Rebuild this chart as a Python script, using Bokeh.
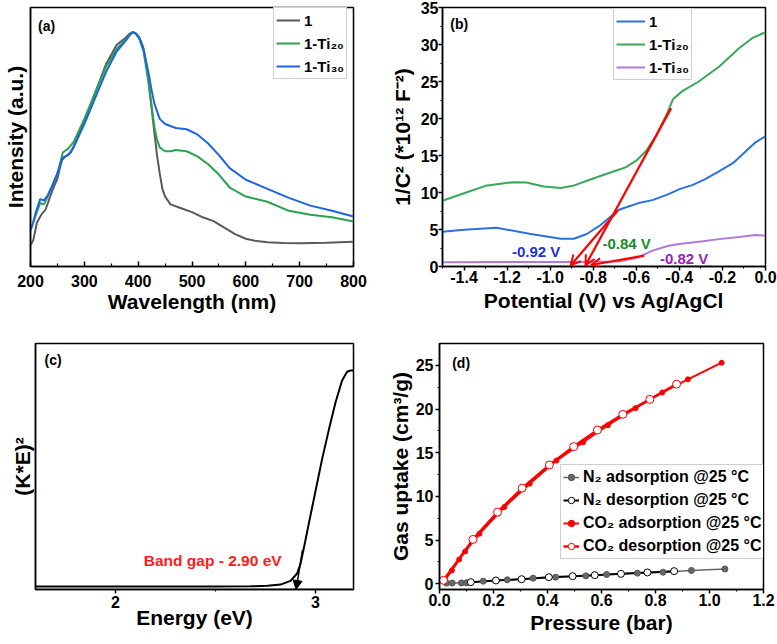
from bokeh.plotting import figure
from bokeh.layouts import row, column
from bokeh.models import (Range1d, FixedTicker, PrintfTickFormatter, Legend, LegendItem,
                          Label, Arrow, OpenHead, NormalHead)
from bokeh.embed import file_html
from bokeh.resources import INLINE

FONT = "Liberation Sans"

# ---------------- data: panel (a) ----------------
wl_1 = [200, 205, 212, 220, 228, 240, 250, 258, 265, 275, 290, 300, 320, 340, 360, 375, 383, 390, 397, 405, 410,
        415, 420, 425, 430, 435, 440, 445, 450, 460, 480, 500, 520, 540, 560, 580, 600, 620, 640, 670, 700, 750, 800]
int_1 = [0.083, 0.10, 0.17, 0.20, 0.22, 0.29, 0.34, 0.41, 0.425, 0.44, 0.51, 0.56, 0.67, 0.78, 0.855, 0.88, 0.897,
         0.905, 0.898, 0.87, 0.84, 0.78, 0.70, 0.61, 0.52, 0.43, 0.36, 0.30, 0.27, 0.24, 0.225, 0.21, 0.19, 0.175,
         0.15, 0.125, 0.107, 0.098, 0.094, 0.091, 0.09, 0.092, 0.096]
wl_ti20 = [200, 205, 210, 218, 225, 232, 240, 250, 255, 260, 270, 280, 300, 320, 340, 360, 378, 385, 390, 395, 402,
           410, 420, 425, 430, 435, 440, 450, 460, 470, 490, 510, 530, 550, 570, 600, 640, 680, 720, 760, 800]
int_ti20 = [0.14, 0.17, 0.20, 0.245, 0.24, 0.27, 0.31, 0.36, 0.40, 0.44, 0.455, 0.48, 0.57, 0.67, 0.77, 0.84,
            0.88, 0.898, 0.905, 0.9, 0.88, 0.83, 0.70, 0.62, 0.54, 0.49, 0.46, 0.445, 0.445, 0.45, 0.445, 0.425,
            0.395, 0.355, 0.305, 0.27, 0.25, 0.215, 0.20, 0.19, 0.174]
wl_ti30 = [200, 205, 210, 218, 225, 232, 240, 250, 255, 260, 270, 280, 300, 320, 340, 360, 378, 385, 390, 395, 402,
           410, 420, 425, 430, 440, 450, 470, 490, 510, 530, 550, 570, 600, 640, 680, 720, 760, 800]
int_ti30 = [0.14, 0.17, 0.21, 0.26, 0.255, 0.275, 0.31, 0.36, 0.39, 0.42, 0.43, 0.46, 0.55, 0.65, 0.75, 0.83,
            0.875, 0.895, 0.905, 0.9, 0.885, 0.84, 0.74, 0.68, 0.63, 0.57, 0.55, 0.535, 0.53, 0.51, 0.475, 0.43,
            0.38, 0.335, 0.30, 0.265, 0.235, 0.215, 0.193]

# ---------------- data: panel (b) ----------------
pot_1 = [-1.5, -1.4, -1.25, -1.09, -0.95, -0.89, -0.83, -0.77, -0.71, -0.68, -0.65, -0.59, -0.525, -0.45,
         -0.40, -0.34, -0.28, -0.22, -0.15, -0.09, -0.05, 0.0]
mott_1 = [4.71, 4.95, 5.25, 4.39, 3.75, 3.75, 4.39, 5.52, 6.95, 7.67, 7.98, 8.57, 8.97, 9.78, 10.45, 11.0,
          11.8, 12.8, 14.0, 15.6, 16.7, 17.6]
pot_ti20 = [-1.5, -1.39, -1.30, -1.17, -1.11, -1.03, -0.95, -0.895, -0.80, -0.71, -0.65, -0.60, -0.555, -0.51,
            -0.46, -0.43, -0.386, -0.31, -0.216, -0.123, -0.062, 0.0]
mott_ti20 = [8.88, 10.0, 10.9, 11.4, 11.35, 10.8, 10.6, 10.9, 11.9, 12.8, 13.4, 14.3, 15.6, 17.6, 20.5, 22.6,
             23.7, 25.0, 27.0, 29.5, 30.85, 31.66]
pot_ti30 = [-1.5, -1.2, -0.9, -0.68, -0.59, -0.525, -0.45, -0.40, -0.29, -0.216, -0.123, -0.046, 0.0]
mott_ti30 = [0.58, 0.6, 0.62, 0.67, 1.26, 2.15, 2.8, 3.05, 3.4, 3.7, 4.0, 4.26, 4.17]
fb_labels = ["-0.92 V", "-0.84 V", "-0.82 V"]

# ---------------- data: panel (c) ----------------
energy = [1.6, 2.2, 2.5, 2.675, 2.76, 2.825, 2.875, 2.908, 2.925, 2.942, 2.967, 3.0, 3.033, 3.067, 3.1,
          3.133, 3.158, 3.175, 3.19]
ke2 = [0.012, 0.012, 0.012, 0.013, 0.015, 0.02, 0.035, 0.065, 0.104, 0.17, 0.27, 0.40, 0.53, 0.65, 0.76,
       0.85, 0.885, 0.89, 0.89]

# ---------------- data: panel (d) ----------------
n2_ads_p = [0.026, 0.047, 0.081, 0.10, 0.162, 0.251, 0.347, 0.43, 0.542, 0.619, 0.733, 0.828, 0.933, 1.057]
n2_ads_v = [0.08, 0.09, 0.10, 0.12, 0.30, 0.46, 0.65, 0.76, 0.91, 1.07, 1.22, 1.33, 1.53, 1.70]
n2_des_p = [0.116, 0.209, 0.304, 0.405, 0.493, 0.575, 0.672, 0.770, 0.869]
n2_des_v = [0.19, 0.38, 0.53, 0.76, 0.875, 0.99, 1.14, 1.30, 1.45]
co2_ads_p = [0.021, 0.046, 0.073, 0.095, 0.148, 0.240, 0.334, 0.433, 0.532, 0.624, 0.726, 0.825, 0.920, 1.045]
co2_ads_v = [0.46, 1.53, 2.79, 3.70, 5.73, 8.78, 11.45, 14.1, 16.2, 18.15, 20.1, 21.9, 23.4, 25.3]
co2_des_p = [0.015, 0.124, 0.215, 0.306, 0.407, 0.497, 0.585, 0.679, 0.779, 0.878]
co2_des_v = [0.40, 5.08, 8.2, 10.95, 13.6, 15.7, 17.6, 19.4, 21.1, 22.85]


def make_fig(w, h, l, r, t, b, xr, yr):
    p = figure(width=w, height=h, x_range=Range1d(*xr), y_range=Range1d(*yr),
               output_backend="svg", toolbar_location=None,
               min_border_left=l, min_border_right=r, min_border_top=t, min_border_bottom=b)
    p.xgrid.visible = False
    p.ygrid.visible = False
    p.outline_line_color = "black"
    p.outline_line_width = 1.5
    p.outline_line_alpha = 1
    p.background_fill_color = "white"
    p.border_fill_color = "white"
    for ax in (p.xaxis[0], p.yaxis[0]):
        ax.axis_line_width = 1.5
        ax.axis_line_color = "black"
        ax.major_label_text_font = FONT
        ax.major_label_text_font_style = "bold"
        ax.major_label_text_font_size = "16px"
        ax.major_label_text_color = "black"
        ax.axis_label_text_font = FONT
        ax.axis_label_text_font_style = "bold"
        ax.axis_label_text_font_size = "21px"
        ax.axis_label_text_color = "black"
        ax.major_tick_line_width = 1.5
        ax.minor_tick_line_width = 1.2
        ax.major_tick_line_color = "black"
        ax.minor_tick_line_color = "black"
        ax.major_tick_in = 0
        ax.major_tick_out = 4
        ax.minor_tick_in = 0
        ax.minor_tick_out = 2
    return p


def no_ticks(ax):
    ax.ticker = FixedTicker(ticks=[], minor_ticks=[])
    ax.major_tick_line_color = None
    ax.minor_tick_line_color = None


def panel_label(p, x, y, txt, size="14px", color="black", align="left"):
    p.add_layout(Label(x=x, y=y, text=txt, text_font=FONT, text_font_style="bold",
                       text_font_size=size, text_color=color, text_align=align,
                       text_baseline="middle"))


def make_legend(items, loc, glyph_w, size="15px"):
    lg = Legend(items=items, location=loc, orientation="vertical")
    lg.label_text_font = FONT
    lg.label_text_font_style = "bold"
    lg.label_text_font_size = size
    lg.label_text_color = "black"
    lg.glyph_width = glyph_w
    lg.glyph_height = 20
    lg.label_height = 20
    lg.label_standoff = 4
    lg.spacing = 3
    lg.padding = 2
    lg.margin = 0
    lg.border_line_color = "#a0a0a0"
    lg.border_line_width = 1
    lg.background_fill_color = "white"
    lg.background_fill_alpha = 1
    return lg


# ================= panel (a) =================
pa = make_fig(385, 320, 30, 32, 5, 54, (200, 800), (0, 1))
pa.xaxis.ticker = FixedTicker(ticks=[200, 300, 400, 500, 600, 700, 800],
                              minor_ticks=[250, 350, 450, 550, 650, 750])
pa.xaxis.major_tick_in = 5
pa.xaxis.major_tick_out = 0
pa.xaxis.minor_tick_in = 3
pa.xaxis.minor_tick_out = 0
pa.xaxis.major_label_standoff = 8
pa.xaxis.axis_label_standoff = 0
pa.xaxis.axis_label = "Wavelength (nm)"
no_ticks(pa.yaxis[0])
pa.yaxis.axis_label = "Intensity (a.u.)"
pa.yaxis.axis_label_standoff = 4
ra1 = pa.line(wl_1, int_1, line_color="#5a5a5a", line_width=2)
ra2 = pa.line(wl_ti20, int_ti20, line_color="#2ca24f", line_width=2)
ra3 = pa.line(wl_ti30, int_ti30, line_color="#1c64e6", line_width=2)
pa.add_layout(make_legend([LegendItem(label="1", renderers=[ra1]),
                           LegendItem(label="1-Ti₂₀", renderers=[ra2]),
                           LegendItem(label="1-Ti₃₀", renderers=[ra3])], (243, 187), 24))
panel_label(pa, 214, 0.93, "(a)")

# ================= panel (b) =================
pb = make_fig(392, 320, 57, 12, 7, 52, (-1.5, 0.0), (0, 35))
pb.xaxis.ticker = FixedTicker(ticks=[-1.4, -1.2, -1.0, -0.8, -0.6, -0.4, -0.2, 0.0],
                              minor_ticks=[-1.5, -1.3, -1.1, -0.9, -0.7, -0.5, -0.3, -0.1])
pb.xaxis.formatter = PrintfTickFormatter(format="%.1f")
pb.xaxis.major_label_standoff = 0
pb.xaxis.axis_label_standoff = 3
pb.xaxis.axis_label = "Potential (V) vs Ag/AgCl"
pb.yaxis.ticker = FixedTicker(ticks=[0, 5, 10, 15, 20, 25, 30, 35],
                              minor_ticks=[2.5, 7.5, 12.5, 17.5, 22.5, 27.5, 32.5])
pb.yaxis.major_label_standoff = 0
pb.yaxis.axis_label_standoff = 4
pb.yaxis.axis_label = "1/C² (*10¹² F⁻²)"
pb.line([-1.12, -0.25], [0.08, 0.08], line_color="#2040e0", line_width=1.5, line_dash="1 2")
rb3 = pb.line(pot_ti30, mott_ti30, line_color="#b07ad8", line_width=2)
rb1 = pb.line(pot_1, mott_1, line_color="#2a72e0", line_width=2)
rb2 = pb.line(pot_ti20, mott_ti20, line_color="#3aa85a", line_width=2)
for xs, ys, xe, ye in [(-0.438, 21.4, -0.836, 0.15), (-0.685, 7.6, -0.905, 0.15), (-0.563, 1.48, -0.81, 0.2)]:
    pb.add_layout(Arrow(end=OpenHead(line_color="red", line_width=2, size=10),
                        x_start=xs, y_start=ys, x_end=xe, y_end=ye,
                        line_color="red", line_width=2.2))
panel_label(pb, -1.065, 2.07, fb_labels[0], size="15px", color="#2233cc", align="center")
panel_label(pb, -0.645, 3.05, fb_labels[1], size="15px", color="#1a8a2a", align="center")
panel_label(pb, -0.378, 1.04, fb_labels[2], size="15px", color="#9a22b8", align="center")
pb.add_layout(make_legend([LegendItem(label="1", renderers=[rb1]),
                           LegendItem(label="1-Ti₂₀", renderers=[rb2]),
                           LegendItem(label="1-Ti₃₀", renderers=[rb3])], (171, 186), 29))
panel_label(pb, -1.464, 32.75, "(b)")

# ================= panel (c) =================
pc = make_fig(385, 324, 35, 32, 21, 47, (1.6, 3.19), (0, 1))
pc.xaxis.ticker = FixedTicker(ticks=[2, 3], minor_ticks=[2.5])
pc.xaxis.major_label_standoff = 2
pc.xaxis.axis_label_standoff = -5
pc.xaxis.axis_label = "Energy (eV)"
no_ticks(pc.yaxis[0])
pc.yaxis.axis_label = "(K*E)²"
pc.yaxis.axis_label_standoff = 2
pc.line([1.6, 3.19], [0.004, 0.004], line_color="#999999", line_width=1)
pc.line(energy, ke2, line_color="black", line_width=2)
pc.add_layout(Arrow(end=NormalHead(fill_color="black", line_color="black", size=9),
                    x_start=2.935, y_start=0.16, x_end=2.903, y_end=0.0,
                    line_color="black", line_width=1.5))
panel_label(pc, 2.486, 0.117, "Band gap - 2.90 eV", size="15.5px", color="#ff1a1a", align="center")
panel_label(pc, 1.645, 0.934, "(c)")

# ================= panel (d) =================
pd_ = make_fig(392, 324, 54, 14, 23, 55, (0, 1.2), (-0.65, 27.5))
pd_.xaxis.ticker = FixedTicker(ticks=[0.0, 0.2, 0.4, 0.6, 0.8, 1.0, 1.2],
                               minor_ticks=[0.1, 0.3, 0.5, 0.7, 0.9, 1.1])
pd_.xaxis.formatter = PrintfTickFormatter(format="%.1f")
pd_.xaxis.major_label_standoff = 0
pd_.xaxis.axis_label_standoff = 2
pd_.xaxis.axis_label = "Pressure (bar)"
pd_.yaxis.ticker = FixedTicker(ticks=[0, 5, 10, 15, 20, 25],
                               minor_ticks=[2.5, 7.5, 12.5, 17.5, 22.5])
pd_.yaxis.major_label_standoff = 2
pd_.yaxis.axis_label_standoff = 1
pd_.yaxis.axis_label = "Gas uptake (cm³/g)"

ln_n2a = pd_.line(n2_ads_p, n2_ads_v, line_color="#666666", line_width=1.5)
ln_n2d = pd_.line(n2_des_p, n2_des_v, line_color="black", line_width=2)
ln_co2a = pd_.line(co2_ads_p, co2_ads_v, line_color="#ff0000", line_width=2)
ln_co2d = pd_.line(co2_des_p, co2_des_v, line_color="#ff0000", line_width=2.5)
mk_n2a = pd_.scatter(n2_ads_p, n2_ads_v, marker="circle", size=6, fill_color="#666666", line_color="#555555")
mk_n2d = pd_.scatter(n2_des_p, n2_des_v, marker="circle", size=7, fill_color="white", line_color="black",
                     line_width=1)
mk_co2a = pd_.scatter(co2_ads_p, co2_ads_v, marker="circle", size=5, fill_color="#ff0000", line_color="#ff0000")
mk_co2d = pd_.scatter(co2_des_p, co2_des_v, marker="circle", size=8, fill_color="white", line_color="#ff0000",
                      line_width=1)
pd_.add_layout(make_legend([LegendItem(label="N₂ adsorption @25 °C", renderers=[ln_n2a, mk_n2a]),
                            LegendItem(label="N₂ desorption @25 °C", renderers=[ln_n2d, mk_n2d]),
                            LegendItem(label="CO₂ adsorption @25 °C", renderers=[ln_co2a, mk_co2a]),
                            LegendItem(label="CO₂ desorption @25 °C", renderers=[ln_co2d, mk_co2d])],
                           (121, 30), 16, size="16px"))
panel_label(pd_, 0.047, 25.3, "(d)")

layout = column(row(pa, pb), row(pc, pd_))
open("out.html", "w").write(file_html(layout, INLINE))
